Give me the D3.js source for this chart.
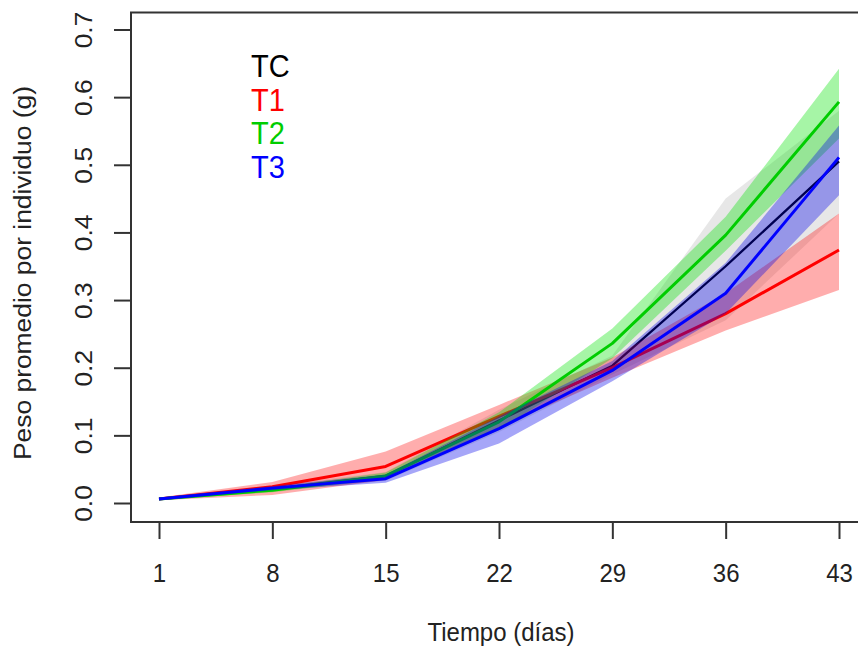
<!DOCTYPE html>
<html>
	<head>
		<meta charset="utf-8">
		<style type="text/css">
			body { margin: 0; background: #fff; }
			svg { display: block; font-family: "Liberation Sans", Arial, sans-serif; }
		</style>
		<title>Peso promedio</title>
	</head>
	<body>
		<div id="chart"></div>

		<script src="https://cdn.jsdelivr.net/npm/d3@7"></script>
		<script>

		// tiempo en dias
		var days = [1, 8, 15, 22, 29, 36, 43];
		var yTicks = [0.0, 0.1, 0.2, 0.3, 0.4, 0.5, 0.6, 0.7];

		// peso medio y banda (min / max) por tratamiento
		var tcMean = [0.006, 0.021, 0.040, 0.122, 0.203, 0.350, 0.505];
		var tcLow  = [0.004, 0.018, 0.033, 0.105, 0.190, 0.270, 0.428];
		var tcHigh = [0.008, 0.025, 0.046, 0.138, 0.218, 0.450, 0.580];

		var t1Mean = [0.006, 0.024, 0.054, 0.128, 0.200, 0.280, 0.374];
		var t1Low  = [0.004, 0.012, 0.034, 0.112, 0.185, 0.255, 0.315];
		var t1High = [0.008, 0.031, 0.076, 0.145, 0.215, 0.310, 0.428];

		var t2Mean = [0.006, 0.019, 0.040, 0.120, 0.236, 0.396, 0.593];
		var t2Low  = [0.004, 0.016, 0.035, 0.108, 0.214, 0.373, 0.539];
		var t2High = [0.008, 0.022, 0.045, 0.134, 0.258, 0.423, 0.642];

		var t3Mean = [0.006, 0.022, 0.036, 0.110, 0.196, 0.310, 0.511];
		var t3Low  = [0.004, 0.019, 0.030, 0.088, 0.180, 0.280, 0.455];
		var t3High = [0.008, 0.025, 0.042, 0.128, 0.210, 0.355, 0.558];

		var seriesNames = ["TC", "T1", "T2", "T3"];

		var series = [
			{mean: tcMean, low: tcLow, high: tcHigh, line: "#000000", fill: "rgba(185,185,185,0.35)", w: 2.3},
			{mean: t1Mean, low: t1Low, high: t1High, line: "#ff0000", fill: "rgba(255,0,0,0.32)", w: 3},
			{mean: t2Mean, low: t2Low, high: t2High, line: "#00cd00", fill: "rgba(0,225,0,0.35)", w: 3},
			{mean: t3Mean, low: t3Low, high: t3High, line: "#0000ff", fill: "rgba(0,0,235,0.35)", w: 3}
		];

		var width = 858;
		var height = 647;
		var stretch = 1.1;  // the original picture is a bit taller than wide

		var x = d3.scaleLinear().domain([1, 43]).range([159, 839]);
		var y = d3.scaleLinear().domain([0, 0.7]).range([503, 29.5]);

		var frame = {left: 131, top: 12.5, right: 866, bottom: 522};

		var svg = d3.select("#chart").append("svg")
			.attr("width", width)
			.attr("height", height);

		// bands and lines, one treatment after the other
		var area = d3.area()
			.x(function(d, i) { return x(days[i]); })
			.y0(function(d) { return y(d[0]); })
			.y1(function(d) { return y(d[1]); });

		var line = d3.line()
			.x(function(d, i) { return x(days[i]); })
			.y(function(d) { return y(d); });

		series.forEach(function(s) {
			svg.append("path")
				.attr("d", area(s.low.map(function(v, i) { return [v, s.high[i]]; })))
				.attr("fill", s.fill)
				.attr("stroke", "none");
			svg.append("path")
				.attr("d", line(s.mean))
				.attr("fill", "none")
				.attr("stroke", s.line)
				.attr("stroke-width", s.w)
				.attr("stroke-linejoin", "round");
		});

		// box
		svg.append("rect")
			.attr("x", frame.left)
			.attr("y", frame.top)
			.attr("width", frame.right - frame.left)
			.attr("height", frame.bottom - frame.top)
			.attr("fill", "none")
			.attr("stroke", "#333")
			.attr("stroke-width", 2);

		// x axis
		var xAxis = svg.append("g")
			.attr("transform", "translate(0," + frame.bottom + ")")
			.call(d3.axisBottom(x).tickValues(days).tickSize(17).tickFormat(d3.format("d")));
		xAxis.select(".domain").remove();
		xAxis.selectAll("line").attr("stroke", "#333").attr("stroke-width", 2);
		xAxis.selectAll("text")
			.attr("y", null).attr("dy", null)
			.attr("transform", "translate(0,60) scale(1," + stretch + ")")
			.attr("font-size", 24)
			.attr("fill", "#222");

		// y axis, labels turned like in R
		var yAxis = svg.append("g")
			.attr("transform", "translate(" + frame.left + ",0)")
			.call(d3.axisLeft(y).tickValues(yTicks).tickSize(17).tickFormat(d3.format(".1f")));
		yAxis.select(".domain").remove();
		yAxis.selectAll("line").attr("stroke", "#333").attr("stroke-width", 2);
		yAxis.selectAll("text")
			.attr("x", 0).attr("dy", null).attr("y", null)
			.attr("text-anchor", "middle")
			.attr("transform", "translate(-39,0) rotate(-90) scale(" + stretch + ",1)")
			.attr("font-size", 24)
			.attr("fill", "#222");

		// titles
		svg.append("text")
			.attr("transform", "translate(501,641) scale(1," + stretch + ")")
			.attr("text-anchor", "middle")
			.attr("font-size", 24)
			.attr("fill", "#222")
			.text("Tiempo (días)");

		svg.append("text")
			.attr("transform", "translate(31,273) rotate(-90) scale(" + stretch + ",1)")
			.attr("text-anchor", "middle")
			.attr("font-size", 24)
			.attr("fill", "#222")
			.text("Peso promedio por individuo (g)");

		// legend
		var legend = svg.append("g");
		legend.selectAll("text")
			.data(series)
			.enter()
				.append("text")
				.attr("transform", function(d, i) {
					return "translate(251," + (77 + i * 33.7) + ") scale(1,1.05)";
				})
				.attr("font-size", 29)
				.attr("fill", function(d) { return d.line; })
				.text(function(d, i) { return seriesNames[i]; });

		</script>
	</body>
</html>
